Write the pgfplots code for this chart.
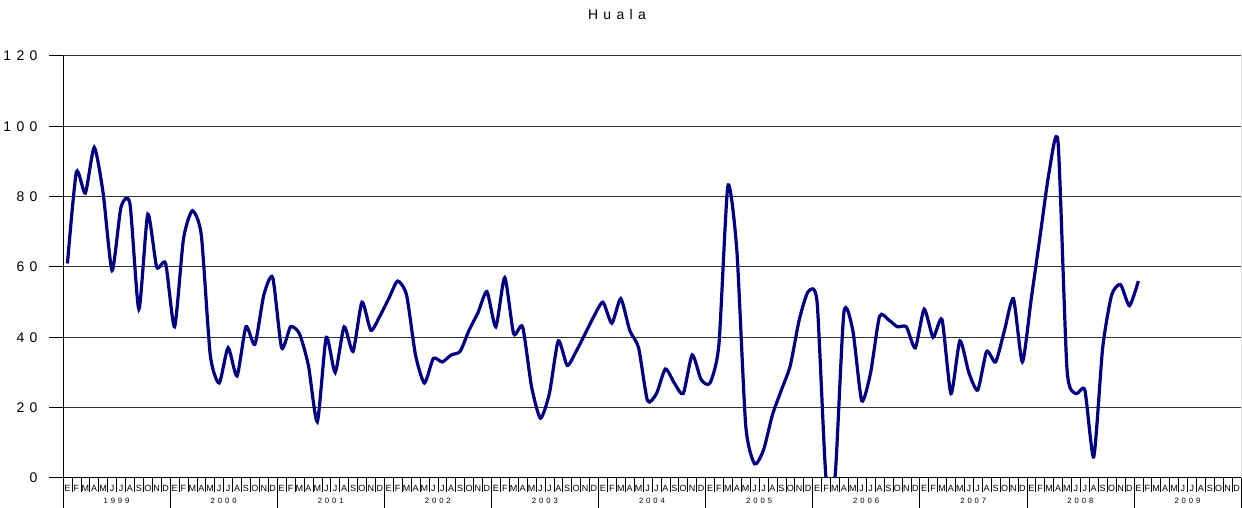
\documentclass[border=0pt]{standalone}
\usepackage{fontspec}
\setmainfont{Liberation Sans}[LetterSpace=38]
\usepackage{pgfplots}
\pgfplotsset{compat=1.18}
\definecolor{navyline}{RGB}{0,0,128}
\pgfplotstableread{
x y
0.5 61
1.5 87
2.5 81
3.5 94
4.5 81
5.5 59
6.5 77
7.5 78
8.5 48
9.5 75
10.5 60
11.5 61
12.5 43
13.5 68
14.5 76
15.5 69
16.5 35
17.5 27
18.5 37
19.5 29
20.5 43
21.5 38
22.5 52
23.5 57
24.5 37
25.5 43
26.5 41
27.5 32
28.5 16
29.5 40
30.5 30
31.5 43
32.5 36
33.5 50
34.5 42
35.5 46
36.5 51
37.5 56
38.5 52
39.5 35
40.5 27
41.5 34
42.5 33
43.5 35
44.5 36
45.5 42
46.5 47
47.5 53
48.5 43
49.5 57
50.5 41
51.5 43
52.5 26
53.5 17
54.5 24
55.5 39
56.5 32
57.5 36
58.5 41
59.5 46
60.5 50
61.5 44
62.5 51
63.5 42
64.5 37
65.5 22
66.5 24
67.5 31
68.5 27
69.5 24
70.5 35
71.5 28
72.5 27
73.5 38
74.5 83
75.5 65
76.5 15
77.5 4
78.5 8
79.5 18
80.5 25
81.5 32
82.5 45
83.5 53
84.5 50
85.5 0
86.5 0
87.5 47
88.5 42
89.5 22
90.5 30
91.5 46
92.5 45
93.5 43
94.5 43
95.5 37
96.5 48
97.5 40
98.5 45
99.5 24
100.5 39
101.5 30
102.5 25
103.5 36
104.5 33
105.5 42
106.5 51
107.5 33
108.5 51
109.5 69
110.5 87
111.5 95.5
112.5 31
113.5 24
114.5 25
115.5 6
116.5 37
117.5 52
118.5 55
119.5 49
120.5 56
}\datatable
\begin{document}
\begin{tikzpicture}[x=1bp,y=1bp]
\useasboundingbox (0,0) rectangle (1242,508);
\node[font=\fontsize{14bp}{16bp}\selectfont] at (617,493) {Huala};
\begin{axis}[
  at={(63bp,30bp)}, anchor=south west,
  scale only axis, width=1178bp, height=422bp,
  xmin=0, xmax=132, ymin=0, ymax=120,
  axis x line*=bottom, axis y line*=left,
  axis line style={black, line width=1bp, -},
  tick align=outside,
  ytick={0,20,...,120},
  yticklabels={0,20,40,60,80,100,120},
  yticklabel style={font=\fontsize{14bp}{16bp}\selectfont, xshift=-8bp},
  ymajorgrids, grid style={black!80, line width=1bp},
  xtick={0,...,131},
  xticklabels={E,F,M,A,M,J,J,A,S,O,N,D,E,F,M,A,M,J,J,A,S,O,N,D,E,F,M,A,M,J,J,A,S,O,N,D,E,F,M,A,M,J,J,A,S,O,N,D,E,F,M,A,M,J,J,A,S,O,N,D,E,F,M,A,M,J,J,A,S,O,N,D,E,F,M,A,M,J,J,A,S,O,N,D,E,F,M,A,M,J,J,A,S,O,N,D,E,F,M,A,M,J,J,A,S,O,N,D,E,F,M,A,M,J,J,A,S,O,N,D,E,F,M,A,M,J,J,A,S,O,N,D},
  xticklabel style={font=\fontsize{9bp}{10bp}\selectfont\addfontfeature{LetterSpace=0}, anchor=center, xshift=4.46bp, yshift=4bp},
  major tick length=14bp,
  ytick style={black, line width=1bp},
  xtick style={black, line width=0.6bp},
  extra x ticks={0,12,...,132},
  extra x tick labels={},
  extra x tick style={major tick length=30bp, tick style={black, line width=1bp}},
  every y tick/.style={black, line width=1bp},
  after end axis/.code={
    \draw[black!12, line width=1bp] (axis cs:132,0) -- (axis cs:132,120);
    \node[font=\fontsize{7.7bp}{9bp}\selectfont] at (axis cs:6,0) [yshift=-23bp] {1999};
    \node[font=\fontsize{7.7bp}{9bp}\selectfont] at (axis cs:18,0) [yshift=-23bp] {2000};
    \node[font=\fontsize{7.7bp}{9bp}\selectfont] at (axis cs:30,0) [yshift=-23bp] {2001};
    \node[font=\fontsize{7.7bp}{9bp}\selectfont] at (axis cs:42,0) [yshift=-23bp] {2002};
    \node[font=\fontsize{7.7bp}{9bp}\selectfont] at (axis cs:54,0) [yshift=-23bp] {2003};
    \node[font=\fontsize{7.7bp}{9bp}\selectfont] at (axis cs:66,0) [yshift=-23bp] {2004};
    \node[font=\fontsize{7.7bp}{9bp}\selectfont] at (axis cs:78,0) [yshift=-23bp] {2005};
    \node[font=\fontsize{7.7bp}{9bp}\selectfont] at (axis cs:90,0) [yshift=-23bp] {2006};
    \node[font=\fontsize{7.7bp}{9bp}\selectfont] at (axis cs:102,0) [yshift=-23bp] {2007};
    \node[font=\fontsize{7.7bp}{9bp}\selectfont] at (axis cs:114,0) [yshift=-23bp] {2008};
    \node[font=\fontsize{7.7bp}{9bp}\selectfont] at (axis cs:126,0) [yshift=-23bp] {2009};
  },
]
\addplot[navyline, line width=3.2bp, smooth, tension=0.38, no markers] table[x=x, y=y] {\datatable};
\end{axis}
\end{tikzpicture}
\end{document}
